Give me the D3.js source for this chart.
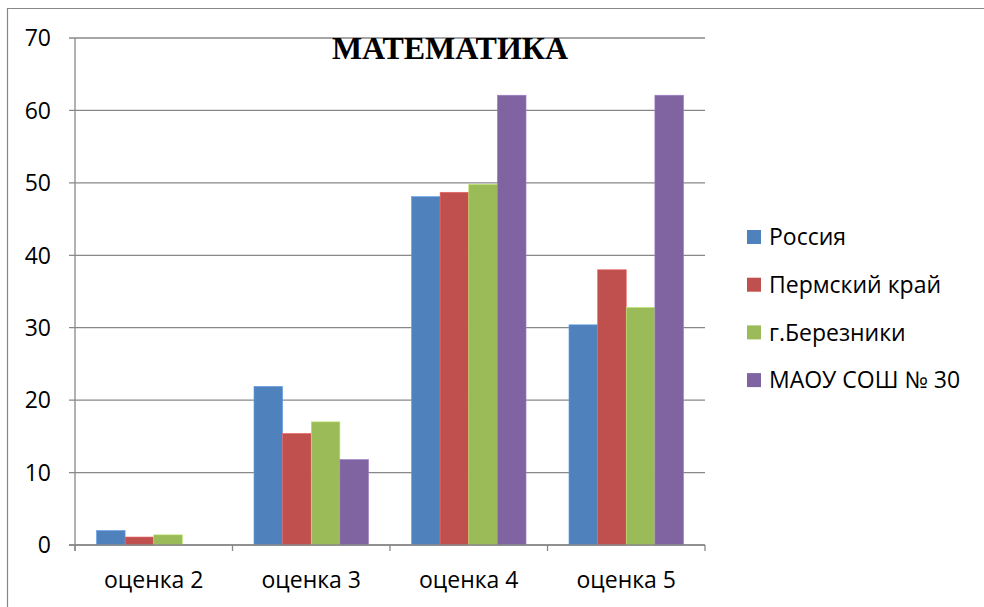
<!DOCTYPE html>
<html><head><meta charset="utf-8">
<script src="https://cdn.jsdelivr.net/npm/d3@7"></script>
<style>body{margin:0;background:#fff}svg{display:block}</style>
</head><body>
<script>
const categories = ["оценка 2", "оценка 3", "оценка 4", "оценка 5"];
const seriesNames = ["Россия", "Пермский край", "г.Березники", "МАОУ СОШ № 30"];
const russia = [2.0, 21.9, 48.1, 30.4];
const perm = [1.1, 15.4, 48.7, 38.0];
const berezniki = [1.4, 17.0, 49.8, 32.8];
const maou = [0, 11.8, 62.1, 62.1];
const yTicks = [0, 10, 20, 30, 40, 50, 60, 70];
const colors = ["#4F81BD", "#C0504D", "#9BBB59", "#8064A2"];
const title = "МАТЕМАТИКА";

const series = [russia, perm, berezniki, maou];
const W = 984, H = 607;
const svg = d3.select("body").append("svg").attr("width", W).attr("height", H);
const font = "'Open Sans', 'Liberation Sans', sans-serif";
const fs = 23;

// outer border
svg.append("path").attr("d", `M7.5,${H} V8.5 H${W}`).attr("fill","none").attr("stroke","#888").attr("stroke-width",1.2);

const L = 75, R = 705, T = 38, B = 545;
const x = d3.scaleBand().domain(categories).range([L, R]).paddingInner(0).paddingOuter(0);
const y = d3.scaleLinear().domain([0, 70]).range([B, T]);

// grid lines
svg.append("g").selectAll("line").data(yTicks).join("line")
  .attr("x1", L - 6).attr("x2", R).attr("y1", d => y(d)).attr("y2", d => y(d))
  .attr("stroke", "#888").attr("stroke-width", 1.3);

// y labels
svg.append("g").selectAll("text").data(yTicks).join("text")
  .attr("x", 51).attr("y", d => y(d)).attr("dy", "0.36em").attr("text-anchor", "end")
  .attr("font-family", font).attr("font-size", fs).attr("fill", "#000").text(d => d);

// bars
const barW = x.bandwidth() / 5.5;
const gap = barW * 0.75;
const groups = svg.append("g").selectAll("g").data(categories).join("g")
  .attr("transform", d => `translate(${x(d)},0)`);
groups.selectAll("rect").data((c, i) => series.map((s, k) => ({k, v: s[i]})))
  .join("rect")
  .attr("x", d => gap + d.k * barW).attr("width", barW)
  .attr("y", d => y(d.v)).attr("height", d => y(0) - y(d.v))
  .attr("fill", d => colors[d.k])
  .attr("stroke", d => d3.color(colors[d.k]).brighter(0.6)).attr("stroke-width", 0.6);

// axes lines
svg.append("line").attr("x1", L).attr("x2", L).attr("y1", T).attr("y2", B + 6).attr("stroke", "#888").attr("stroke-width", 1.3);
svg.append("line").attr("x1", L - 6).attr("x2", R).attr("y1", B).attr("y2", B).attr("stroke", "#888").attr("stroke-width", 1.3);
const bounds = categories.map(c => x(c)).concat([R]);
svg.append("g").selectAll("line").data(bounds).join("line")
  .attr("x1", d => d).attr("x2", d => d).attr("y1", B).attr("y2", B + 6)
  .attr("stroke", "#888").attr("stroke-width", 1.3);

// x labels
svg.append("g").selectAll("text").data(categories).join("text")
  .attr("x", d => x(d) + x.bandwidth() / 2).attr("y", 588).attr("text-anchor", "middle")
  .attr("font-family", font).attr("font-size", fs).attr("fill", "#000").text(d => d);

// title
svg.append("text").attr("x", 450).attr("y", 59).attr("text-anchor", "middle")
  .attr("font-family", "'Liberation Serif', 'Times New Roman', serif").attr("font-weight", "bold")
  .attr("font-size", 32).attr("fill", "#000").text(title);

// legend
const lg = svg.append("g").selectAll("g").data(seriesNames).join("g")
  .attr("transform", (d, i) => `translate(747,${237 + i * 47.7})`);
lg.append("rect").attr("x", 0).attr("y", -7).attr("width", 14).attr("height", 14).attr("fill", (d, i) => colors[i]);
lg.append("text").attr("x", 22).attr("y", 0).attr("dy", "0.36em")
  .attr("font-family", font).attr("font-size", fs).attr("fill", "#000").text(d => d);
</script>
</body></html>
